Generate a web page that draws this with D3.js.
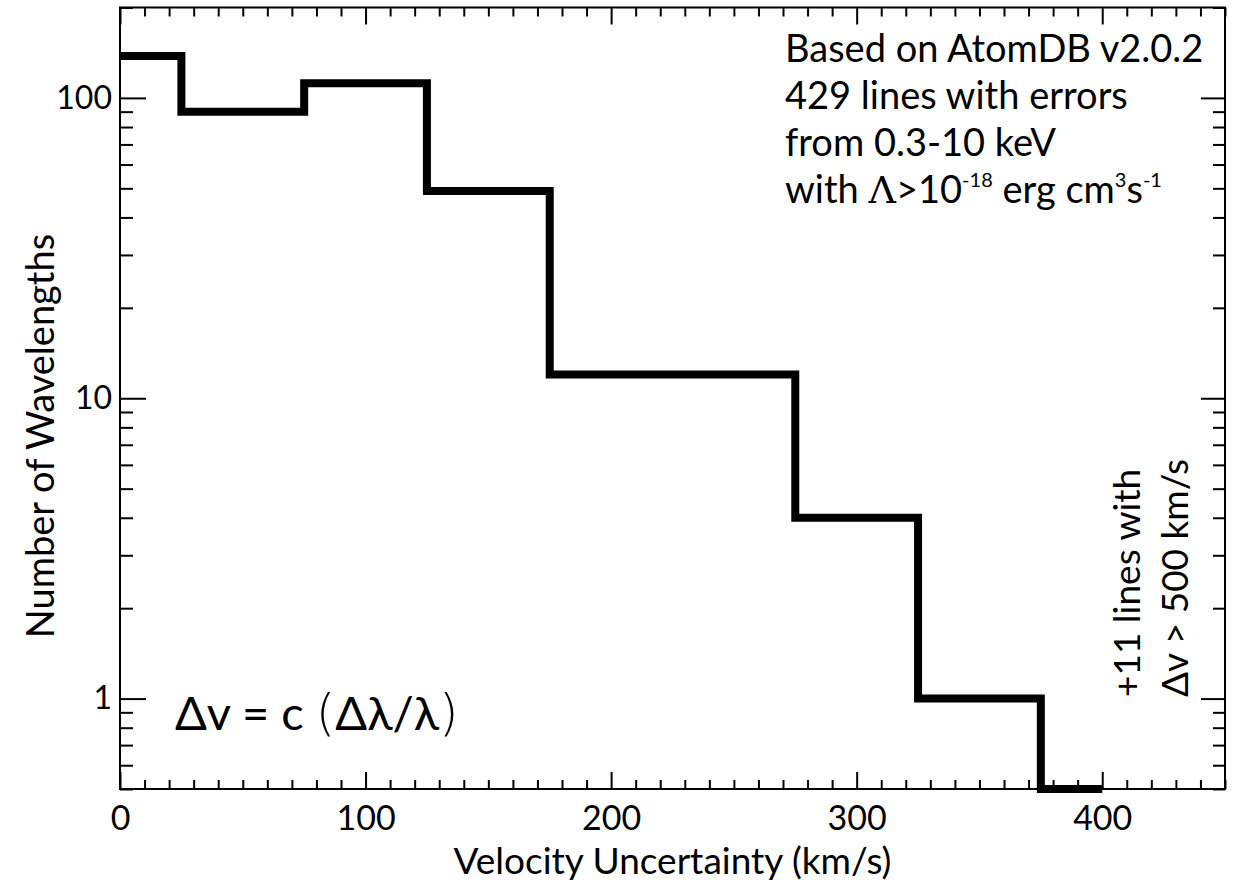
<!DOCTYPE html>
<html>
<head>
<meta charset="utf-8">
<title>Velocity Uncertainty Histogram</title>
<style>
  body { margin: 0; background: #fff; }
  text { font-family: Lato, "Noto Sans", sans-serif; fill: #000; }
  .tick line { stroke: #000; stroke-width: 2; }
  .domain { display: none; }
</style>
</head>
<body>
<svg width="1238" height="881"></svg>
<script src="https://d3js.org/d3.v7.min.js"></script>
<script>
// bin centres (km/s) and counts per 50 km/s bin
var binCenters = [0, 50, 100, 150, 200, 250, 300, 350, 400];
var binCounts  = [138, 90, 112, 49, 12, 12, 4, 1, 0];

var xTickValues = [0, 100, 200, 300, 400];
var yTickValues = [1, 10, 100];

var noteLines = ["Based on AtomDB v2.0.2", "429 lines with errors", "from 0.3-10 keV"];

var svg = d3.select("svg"),
    margin = {top: 7.5, right: 13, bottom: 92, left: 120},
    width = +svg.attr("width") - margin.left - margin.right,
    height = +svg.attr("height") - margin.top - margin.bottom,
    g = svg.append("g").attr("transform", "translate(" + margin.left + "," + margin.top + ")");

var yMin = 0.5;

var x = d3.scaleLinear().domain([0, 450]).range([0, width]);
var y = d3.scaleLog().domain([yMin, 200]).range([height, 0]);

var xMinor = d3.range(0, 451, 10).filter(function(v) { return v % 100 !== 0; });
var yMinor = [];
[0.1, 1, 10, 100].forEach(function(dec) {
  d3.range(2, 10).forEach(function(m) {
    var v = dec * m;
    if (v >= yMin && v <= 200) yMinor.push(v);
  });
});

// bottom axis (labels) + top mirror
g.append("g")
  .attr("transform", "translate(0," + height + ")")
  .call(d3.axisBottom(x).tickValues(xTickValues).tickSize(-17).tickPadding(17).tickFormat(d3.format("d")))
  .call(function(a) { a.selectAll("text").attr("font-size", 34).attr("font-family", "Lato, sans-serif"); });
g.append("g")
  .attr("transform", "translate(0," + height + ")")
  .call(d3.axisBottom(x).tickValues(xMinor).tickSize(-9).tickFormat(""));
g.append("g")
  .call(d3.axisTop(x).tickValues(xTickValues).tickSize(-17).tickFormat(""));
g.append("g")
  .call(d3.axisTop(x).tickValues(xMinor).tickSize(-9).tickFormat(""));

// left axis (labels) + right mirror
g.append("g")
  .call(d3.axisLeft(y).tickValues(yTickValues).tickSize(-26).tickPadding(8).tickFormat(d3.format("d")))
  .call(function(a) { a.selectAll("text").attr("font-size", 32).attr("font-family", "Lato, sans-serif"); });
g.append("g")
  .call(d3.axisLeft(y).tickValues(yMinor).tickSize(-13).tickFormat(""));
g.append("g")
  .attr("transform", "translate(" + width + ",0)")
  .call(d3.axisRight(y).tickValues(yTickValues).tickSize(-24).tickFormat(""));
g.append("g")
  .attr("transform", "translate(" + width + ",0)")
  .call(d3.axisRight(y).tickValues(yMinor).tickSize(-12).tickFormat(""));

// frame
g.append("rect")
  .attr("width", width)
  .attr("height", height)
  .attr("fill", "none")
  .attr("stroke", "#000")
  .attr("stroke-width", 2);

// histogram (IDL psym=10 style)
var bins = binCenters.map(function(c, i) { return {v: c, n: binCounts[i]}; });
var line = d3.line()
  .x(function(d) { return x(d.v); })
  .y(function(d) { return y(Math.max(d.n, yMin)); })
  .curve(d3.curveStep);

g.append("path")
  .datum(bins)
  .attr("d", line)
  .attr("fill", "none")
  .attr("stroke", "#000")
  .attr("stroke-width", 8)
  .attr("stroke-linejoin", "miter");

// axis titles
svg.append("text")
  .attr("x", margin.left + x(225))
  .attr("y", 874)
  .attr("text-anchor", "middle")
  .attr("font-size", 37)
  .text("Velocity Uncertainty (km/s)");

svg.append("text")
  .attr("transform", "translate(54,436) rotate(-90)")
  .attr("text-anchor", "middle")
  .attr("font-size", 38)
  .text("Number of Wavelengths");

// annotation top right
var note = svg.append("text").attr("font-size", 38);
noteLines.forEach(function(t, i) {
  note.append("tspan").attr("x", 785).attr("y", 62 + i * 47).text(t);
});
var last = note.append("tspan").attr("x", 785).attr("y", 62 + 3 * 47);
last.append("tspan").text("with ");
last.append("tspan").attr("font-family", "DejaVu Serif, serif").attr("font-weight", 300).text("\u039B");
last.append("tspan").text(">10");
last.append("tspan").attr("font-size", 20).attr("dy", -16).text("-18");
last.append("tspan").attr("dy", 16).text(" erg cm");
last.append("tspan").attr("font-size", 20).attr("dy", -16).text("3");
last.append("tspan").attr("dy", 16).text("s");
last.append("tspan").attr("font-size", 20).attr("dy", -16).text("-1");

// formula
var f = svg.append("text").attr("x", 175).attr("y", 730).attr("font-size", 47);
f.append("tspan").text("\u0394v = c ");
f.append("tspan").attr("font-family", "DejaVu Sans, sans-serif").attr("font-weight", 200).attr("font-size", 50).text("(");
f.append("tspan").text("\u0394\u03BB/\u03BB");
f.append("tspan").attr("font-family", "DejaVu Sans, sans-serif").attr("font-weight", 200).attr("font-size", 50).text(")");

// overflow note, rotated
var side = svg.append("text")
  .attr("transform", "translate(1140,697) rotate(-90)")
  .attr("font-size", 37);
side.append("tspan").attr("x", 0).attr("y", 0).text("+11 lines with");
side.append("tspan").attr("x", 0).attr("y", 48).text("\u0394v > 500 km/s");
</script>
</body>
</html>
